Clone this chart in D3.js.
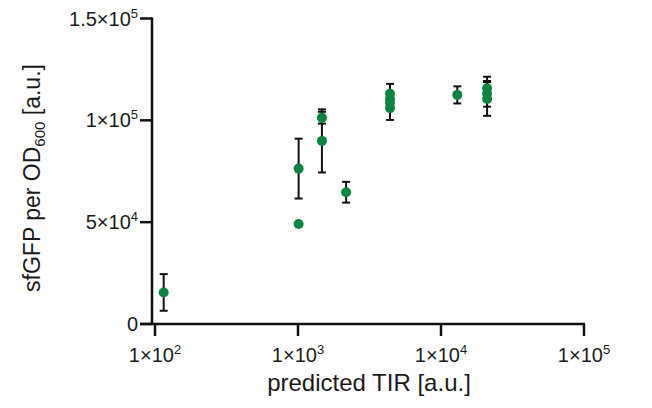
<!DOCTYPE html>
<html>
<head>
<meta charset="utf-8">
<script src="https://cdn.jsdelivr.net/npm/d3@7"></script>
<style>
  html, body { margin: 0; padding: 0; background: #fff; }
  svg text { font-family: "Liberation Sans", Arial, sans-serif; fill: #1a1a1a; }
</style>
</head>
<body>
<div id="chart"></div>
<script>
// predicted TIR vs sfGFP/OD600, mean ± SD per construct
const tir = [115, 1010, 1010, 1470, 1470, 2170, 4400, 4400, 4400, 4400, 13000, 21000, 21000, 21000];
const fluor = [15500, 76300, 49100, 101300, 89900, 64700, 106000, 108500, 110500, 113000, 112500, 110500, 113000, 115700];
const sd = [9000, 14700, 0, 2900, 15500, 5100, 5800, 3000, 3200, 4900, 4200, 8300, 6300, 5700];

const xTicks = [2, 3, 4, 5];            // exponents: 1×10^n
const yTicks = [0, 50000, 100000, 150000];
const yTickMant = ["0", "5", "1", "1.5"];
const yTickExp = ["", "4", "5", "5"];

const width = 652, height = 408;
const green = "#0f8341";

const svg = d3.select("#chart").append("svg")
  .attr("width", width)
  .attr("height", height);

const x = d3.scaleLog().domain([1e2, 1e5]).range([155, 584]);
const y = d3.scaleLinear().domain([0, 150000]).range([324, 18.5]);
const axisX = 152; // y-axis position
const tickLen = 12;

// axis lines
svg.append("line")
  .attr("x1", axisX).attr("x2", axisX)
  .attr("y1", y(150000) - 1).attr("y2", y(0) + 1)
  .attr("stroke", "#111").attr("stroke-width", 2.5);
svg.append("line")
  .attr("x1", axisX - tickLen).attr("x2", x(1e5) + 1)
  .attr("y1", y(0)).attr("y2", y(0))
  .attr("stroke", "#111").attr("stroke-width", 2.5);

// y ticks
const yg = svg.append("g");
yTicks.forEach((v, i) => {
  yg.append("line")
    .attr("x1", axisX - tickLen).attr("x2", axisX)
    .attr("y1", y(v)).attr("y2", y(v))
    .attr("stroke", "#111").attr("stroke-width", 2.5);
  const t = yg.append("text")
    .attr("x", axisX - tickLen - 2)
    .attr("y", y(v) + 7)
    .attr("text-anchor", "end")
    .style("font-size", "20px");
  if (yTickExp[i]) {
    t.append("tspan").text(yTickMant[i] + "\u00d710");
    t.append("tspan").attr("dy", -8).style("font-size", "13px").text(yTickExp[i]);
  } else {
    t.text(yTickMant[i]);
  }
});

// x ticks
const xg = svg.append("g");
xTicks.forEach((e) => {
  const v = Math.pow(10, e);
  xg.append("line")
    .attr("x1", x(v)).attr("x2", x(v))
    .attr("y1", y(0)).attr("y2", y(0) + tickLen)
    .attr("stroke", "#111").attr("stroke-width", 2.5);
  const t = xg.append("text")
    .attr("x", x(v))
    .attr("y", y(0) + 38)
    .attr("text-anchor", "middle")
    .style("font-size", "20px");
  t.append("tspan").text("1\u00d710");
  t.append("tspan").attr("dy", -8).style("font-size", "13px").text(e);
});

// axis titles
svg.append("text")
  .attr("x", 369)
  .attr("y", 391)
  .attr("text-anchor", "middle")
  .style("font-size", "24px")
  .text("predicted TIR [a.u.]");

const yl = svg.append("text")
  .attr("transform", `translate(40,178) rotate(-90)`)
  .attr("text-anchor", "middle")
  .style("font-size", "23px");
yl.append("tspan").text("sfGFP per OD");
yl.append("tspan").attr("dy", 5).style("font-size", "15px").text("600");
yl.append("tspan").attr("dy", -5).text(" [a.u.]");

// data
const rows = tir.map((t, i) => ({ tir: t, mean: fluor[i], sd: sd[i] }));

const eb = svg.append("g").selectAll("g")
  .data(rows.filter((d) => d.sd > 0))
  .join("g");
eb.append("line")
  .attr("x1", (d) => x(d.tir)).attr("x2", (d) => x(d.tir))
  .attr("y1", (d) => y(d.mean + d.sd)).attr("y2", (d) => y(d.mean - d.sd))
  .attr("stroke", "#111").attr("stroke-width", 2);
[1, -1].forEach((s) => {
  eb.append("line")
    .attr("x1", (d) => x(d.tir) - 4).attr("x2", (d) => x(d.tir) + 4)
    .attr("y1", (d) => y(d.mean + s * d.sd)).attr("y2", (d) => y(d.mean + s * d.sd))
    .attr("stroke", "#111").attr("stroke-width", 2);
});

svg.append("g").selectAll("circle")
  .data(rows)
  .join("circle")
  .attr("cx", (d) => x(d.tir))
  .attr("cy", (d) => y(d.mean))
  .attr("r", 5)
  .attr("fill", green);
</script>
</body>
</html>
